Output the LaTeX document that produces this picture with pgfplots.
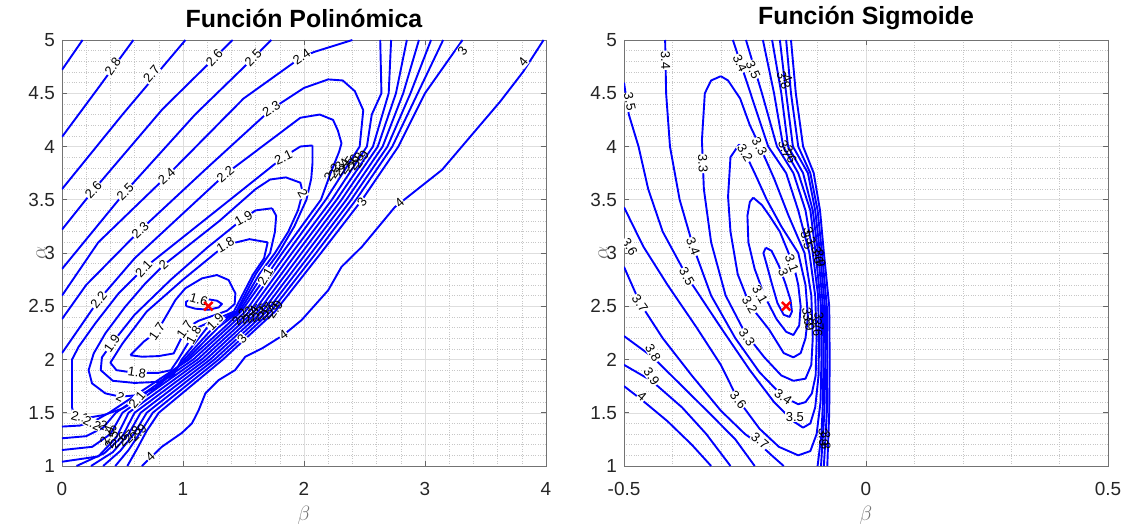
\documentclass[border=0pt]{standalone}
\usepackage{pgfplots}
\pgfplotsset{compat=1.18}
\usepackage{fontspec}
\setmainfont{Liberation Sans}
\begin{document}
\begin{tikzpicture}
\tikzset{lb/.style={fill=white, inner sep=0.6bp, font=\fontsize{13}{13}\selectfont, text=black},
 lc/.style={inner sep=0bp, font=\fontsize{13}{13}\selectfont, text=black}}
\pgfplotsset{
 cstyle/.style={
  scale only axis, width=484bp, height=426bp,
  ymin=1, ymax=5, ytick={1,1.5,...,5},
  grid=both,
  major grid style={draw=black!13, line width=0.5bp},
  minor grid style={draw=black!22, dotted, line width=0.5bp},
  axis line style={draw=black!55, line width=0.8bp},
  tick style={draw=black!60, line width=0.6bp},
  major tick length=5bp, minor tick length=0bp,
  tick align=inside,
  ticklabel style={font=\fontsize{19}{19}\selectfont, text=black!85},
  yticklabel style={anchor=east, inner sep=0pt, xshift=-7bp},
  xticklabel style={anchor=north, inner sep=0pt, yshift=-16bp},
  /pgf/number format/assume math mode=true,
  ylabel={$\alpha$}, xlabel={$\beta$},
  label style={font=\fontsize{21}{21}\selectfont, text=black!55},
  xlabel style={at={(axis description cs:0.5,0)}, anchor=center, yshift=-49bp},
  ylabel style={at={(axis description cs:0,0.5)}, anchor=center, yshift=21bp},
  title style={font=\bfseries\fontsize{25}{25}\selectfont, at={(axis description cs:0.5,1)}, anchor=center, yshift=16bp},
  minor y tick num=4, minor x tick num=4,
  clip=true,
 },
 cl/.style={blue, line width=1.9bp, no marks, line join=round},
}
% ================= LEFT =================
\begin{axis}[cstyle, title={Función Polinómica}, xmin=0, xmax=4, xtick={0,1,2,3,4}]
\addplot[cl] coordinates {(0,4.72) (0.17,5)};
\addplot[cl] coordinates {(0,4.09) (0.3,4.55) (0.59,5)};
\addplot[cl] coordinates {(0,3.60) (0.5,4.3) (1.02,5)};
\addplot[cl] coordinates {(0,3.22) (0.26,3.59) (0.83,4.35) (1.41,5)};
\addplot[cl] coordinates {(0,2.85) (0.523,3.575) (1.1,4.3) (1.58,4.83) (1.73,5)};
\addplot[cl] coordinates {(0,2.6) (0.3,3.1) (0.865,3.72) (1.5,4.45) (1.98,4.84) (2.09,4.89) (2.40,5.0)};
% 2.2
\addplot[cl] coordinates {(0,1.37) (0.15,1.38) (0.28,1.43) (0.39,1.5) (1.05,2.0) (1.34,2.3) (1.48,2.45) (1.70,2.8) (1.82,3.0) (2.14,3.5) (2.22,3.75) (2.29,3.95) (2.31,4.03) (2.28,4.15) (2.24,4.25) (2.13,4.30) (1.97,4.27) (1.35,3.74) (0.6,2.95) (0.303,2.558) (0,2.06)};
% 2.3
\addplot[cl] coordinates {(0,1.26) (0.2,1.28) (0.34,1.36) (0.445,1.5) (1.085,2.0) (1.515,2.45) (1.86,3.0) (2.18,3.5) (2.46,4.0) (2.49,4.34) (2.42,4.52) (2.32,4.62) (2.2,4.63) (2.0,4.55) (1.73,4.35) (1.2,3.8) (0.647,3.215) (0.2,2.7) (0,2.38)};
% 2.4 .. 3.0 right pieces
\addplot[cl] coordinates {(0,1.15) (0.25,1.18) (0.4,1.3) (0.50,1.5) (1.12,2.0) (1.55,2.45) (1.90,3.0) (2.23,3.5) (2.52,4.0) (2.56,4.3) (2.64,4.5) (2.63,5.0)};
\addplot[cl] coordinates {(0,1.04) (0.3,1.09) (0.45,1.27) (0.55,1.5) (1.155,2.0) (1.585,2.45) (1.94,3.0) (2.27,3.5) (2.57,4.0) (2.70,4.5) (2.72,5.0)};
\addplot[cl] coordinates {(0.12,1.0) (0.35,1.12) (0.5,1.28) (0.60,1.5) (1.19,2.0) (1.62,2.45) (1.98,3.0) (2.31,3.5) (2.61,4.0) (2.76,4.5) (2.85,5.0)};
\addplot[cl] coordinates {(0.24,1.0) (0.42,1.13) (0.55,1.3) (0.65,1.5) (1.225,2.0) (1.655,2.45) (2.02,3.0) (2.35,3.5) (2.65,4.0) (2.82,4.5) (2.95,5.0)};
\addplot[cl] coordinates {(0.34,1.0) (0.48,1.14) (0.6,1.31) (0.70,1.5) (1.26,2.0) (1.69,2.45) (2.06,3.0) (2.39,3.5) (2.69,4.0) (2.88,4.5) (3.05,5.0)};
\addplot[cl] coordinates {(0.44,1.0) (0.55,1.15) (0.65,1.32) (0.75,1.5) (1.295,2.0) (1.725,2.45) (2.10,3.0) (2.43,3.5) (2.73,4.0) (2.94,4.5) (3.15,5.0)};
\addplot[cl] coordinates {(0.54,1.0) (0.62,1.16) (0.7,1.33) (0.80,1.5) (1.33,2.0) (1.76,2.45) (2.14,3.0) (2.48,3.5) (2.78,4.0) (3.0,4.5) (3.31,5.0)};
% 2.1 loop
\addplot[cl] coordinates {(2.07,4.01) (2.07,3.84) (2.06,3.7) (2.02,3.5) (1.92,3.25) (1.79,3.0) (1.66,2.8) (1.465,2.45) (1.29,2.3) (1.03,2.0) (0.8,1.78) (0.62,1.62) (0.5,1.54) (0.35,1.48) (0.2,1.45) (0.1,1.47) (0.083,1.55) (0.083,2.0) (0.138,2.12) (0.275,2.339) (0.468,2.621) (0.675,2.855) (1.3,3.42) (1.83,3.90) (1.97,4.0) (2.07,4.01)};
% 2.0 loop
\addplot[cl] coordinates {(1.85,3.71) (1.97,3.66) (1.99,3.57) (1.95,3.4) (1.87,3.2) (1.76,3.0) (1.63,2.8) (1.45,2.45) (1.25,2.3) (1.01,2.0) (0.92,1.88) (0.771,1.729) (0.634,1.666) (0.482,1.651) (0.358,1.682) (0.248,1.776) (0.22,1.9) (0.262,2.057) (0.358,2.245) (0.523,2.496) (0.689,2.715) (0.84,2.887) (1.3,3.3) (1.6,3.6) (1.72,3.69) (1.85,3.71)};
% 1.9 loop
\addplot[cl] coordinates {(1.736,3.42) (1.77,3.35) (1.76,3.2) (1.72,3.0) (1.6,2.8) (1.44,2.45) (1.2,2.3) (0.99,2.0) (0.92,1.85) (0.8,1.79) (0.6,1.78) (0.42,1.8) (0.32,1.9) (0.33,2.02) (0.413,2.152) (0.6,2.42) (0.9,2.75) (1.2,3.05) (1.50,3.325) (1.6,3.4) (1.736,3.42)};
% 1.8 loop
\addplot[cl] coordinates {(1.70,3.1) (1.67,2.95) (1.58,2.8) (1.42,2.45) (1.12,2.3) (0.96,2.0) (0.9,1.9) (0.8,1.875) (0.6,1.875) (0.45,1.9) (0.4,1.97) (0.5,2.15) (0.7,2.45) (1.0,2.75) (1.35,3.075) (1.55,3.13) (1.70,3.1)};
% 1.7 loop
\addplot[cl] coordinates {(0.565,2.04) (0.675,2.167) (0.785,2.261) (0.882,2.449) (0.937,2.558) (1.019,2.668) (1.157,2.762) (1.281,2.793) (1.377,2.746) (1.433,2.621) (1.427,2.521) (1.364,2.458) (1.24,2.408) (1.129,2.364) (1.047,2.308) (0.978,2.183) (0.923,2.057) (0.799,2.032) (0.661,2.026) (0.565,2.04)};
% 1.6
\addplot[cl] coordinates {(1.025,2.502) (1.102,2.477) (1.212,2.467) (1.295,2.489) (1.322,2.521) (1.281,2.552) (1.212,2.565) (1.102,2.574) (1.025,2.543) (1.025,2.502)};
% 4
\addplot[cl] coordinates {(0.66,1.0) (0.826,1.181) (0.99,1.31) (1.074,1.40) (1.13,1.525) (1.185,1.682) (1.295,1.807) (1.43,1.90) (1.515,2.026) (1.653,2.104) (1.83,2.23) (1.98,2.37) (2.20,2.65) (2.31,2.87) (2.48,3.06) (2.75,3.43) (3.14,3.78) (3.62,4.42) (3.81,4.70) (3.98,5.0)};
% labels
\node[lb,rotate=54] at (axis cs:0.42,4.75) {2.8};
\node[lb,rotate=50] at (axis cs:0.74,4.68) {2.7};
\node[lb,rotate=48] at (axis cs:0.26,3.59) {2.6};
\node[lb,rotate=48] at (axis cs:1.26,4.83) {2.6};
\node[lb,rotate=46] at (axis cs:0.523,3.575) {2.5};
\node[lb,rotate=46] at (axis cs:1.58,4.83) {2.5};
\node[lb,rotate=41] at (axis cs:0.865,3.72) {2.4};
\node[lb,rotate=35] at (axis cs:1.98,4.84) {2.4};
\node[lb,rotate=44] at (axis cs:0.647,3.215) {2.3};
\node[lb,rotate=33] at (axis cs:1.73,4.35) {2.3};
\node[lb,rotate=52] at (axis cs:0.303,2.558) {2.2};
\node[lb,rotate=40] at (axis cs:1.35,3.74) {2.2};
\node[lb,rotate=47] at (axis cs:0.675,2.855) {2.1};
\node[lb,rotate=25] at (axis cs:1.83,3.90) {2.1};
\node[lb,rotate=60] at (axis cs:1.68,2.78) {2.1};
\node[lb,rotate=42] at (axis cs:0.84,2.887) {2};
\node[lb,rotate=-60] at (axis cs:1.99,3.56) {2};
\node[lb,rotate=-25] at (axis cs:0.482,1.651) {2};
\node[lb,rotate=50] at (axis cs:0.62,1.62) {2.1};
\node[lb,rotate=-15] at (axis cs:0.15,1.46) {2.1};
\node[lb,rotate=55] at (axis cs:0.413,2.152) {1.9};
\node[lb,rotate=30] at (axis cs:1.50,3.325) {1.9};
\node[lb,rotate=45] at (axis cs:1.267,2.355) {1.9};
\node[lb,rotate=-8] at (axis cs:0.62,1.875) {1.8};
\node[lb,rotate=30] at (axis cs:1.35,3.075) {1.8};
\node[lb,rotate=60] at (axis cs:1.088,2.23) {1.8};
\node[lb,rotate=55] at (axis cs:0.785,2.261) {1.7};
\node[lb,rotate=55] at (axis cs:1.014,2.283) {1.7};
\node[lb,rotate=-15] at (axis cs:1.13,2.565) {1.6};
% clusters (overlapping labels, as drawn by clabel)
\node[lb,rotate=-25] at (axis cs:0.25,1.40) {2.2};
\node[lc,rotate=-30] at (axis cs:0.38,1.36) {2.3};
\node[lc,rotate=70] at (axis cs:0.37,1.29) {2.4};
\node[lc,rotate=70] at (axis cs:0.41,1.25) {2.5};
\node[lc,rotate=45] at (axis cs:0.47,1.24) {2.6};
\node[lc,rotate=45] at (axis cs:0.53,1.26) {2.7};
\node[lc,rotate=45] at (axis cs:0.58,1.29) {2.8};
\node[lc,rotate=45] at (axis cs:0.63,1.31) {2.9};
\node[lc,rotate=55] at (axis cs:1.47,2.40) {2.2};
\node[lc,rotate=55] at (axis cs:1.52,2.41) {2.3};
\node[lc,rotate=55] at (axis cs:1.56,2.42) {2.4};
\node[lc,rotate=55] at (axis cs:1.60,2.43) {2.5};
\node[lc,rotate=55] at (axis cs:1.64,2.44) {2.6};
\node[lc,rotate=55] at (axis cs:1.68,2.45) {2.7};
\node[lc,rotate=55] at (axis cs:1.72,2.46) {2.8};
\node[lc,rotate=55] at (axis cs:1.76,2.47) {2.9};
\node[lc,rotate=55] at (axis cs:2.23,3.76) {2.2};
\node[lc,rotate=55] at (axis cs:2.27,3.78) {2.3};
\node[lc,rotate=55] at (axis cs:2.31,3.80) {2.4};
\node[lc,rotate=55] at (axis cs:2.35,3.82) {2.5};
\node[lc,rotate=55] at (axis cs:2.39,3.84) {2.6};
\node[lc,rotate=55] at (axis cs:2.43,3.86) {2.8};
\node[lc,rotate=55] at (axis cs:2.47,3.88) {2.9};
\node[lb,rotate=50] at (axis cs:1.488,2.198) {3};
\node[lb,rotate=55] at (axis cs:2.48,3.48) {3};
\node[lb,rotate=55] at (axis cs:3.31,4.9) {3};
\node[lb,rotate=42] at (axis cs:0.73,1.087) {4};
\node[lb,rotate=35] at (axis cs:1.83,2.23) {4};
\node[lb,rotate=42] at (axis cs:2.79,3.47) {4};
\node[lb,rotate=50] at (axis cs:3.81,4.79) {4};
\addplot[only marks, mark=x, red, mark size=6bp, line width=2.4bp] coordinates {(1.21,2.5)};
\end{axis}
% ================= RIGHT =================
\begin{axis}[cstyle, at={(562bp,0)}, title={Función Sigmoide}, xmin=-0.5, xmax=0.5, xtick={-0.5,0,0.5}, xticklabels={-0.5,0,0.5}]
\addplot[cl] coordinates {(-0.207,3.05) (-0.195,3.02) (-0.18,2.88) (-0.167,2.72) (-0.156,2.56) (-0.153,2.45) (-0.158,2.40) (-0.17,2.42) (-0.183,2.53) (-0.195,2.72) (-0.207,2.92) (-0.212,3.0) (-0.207,3.05)};
\addplot[cl] coordinates {(-0.233,3.52) (-0.215,3.45) (-0.198,3.34) (-0.178,3.2) (-0.16,3.0) (-0.15,2.9) (-0.14,2.7) (-0.135,2.5) (-0.138,2.32) (-0.15,2.23) (-0.165,2.26) (-0.185,2.38) (-0.21,2.6) (-0.23,2.85) (-0.243,3.1) (-0.245,3.35) (-0.24,3.48) (-0.233,3.52)};
\addplot[cl] coordinates {(-0.262,4.02) (-0.25,3.94) (-0.23,3.75) (-0.205,3.5) (-0.175,3.25) (-0.14,3.0) (-0.125,2.7) (-0.12,2.4) (-0.125,2.2) (-0.135,2.06) (-0.15,2.02) (-0.17,2.06) (-0.2,2.28) (-0.24,2.51) (-0.265,2.8) (-0.28,3.2) (-0.285,3.53) (-0.28,3.9) (-0.262,4.02)};
\addplot[cl] coordinates {(-0.30,4.66) (-0.285,4.62) (-0.26,4.45) (-0.24,4.2) (-0.219,4.0) (-0.19,3.7) (-0.16,3.35) (-0.127,3.0) (-0.113,2.6) (-0.11,2.2) (-0.113,1.95) (-0.125,1.82) (-0.15,1.80) (-0.175,1.85) (-0.21,2.02) (-0.25,2.25) (-0.29,2.6) (-0.32,3.1) (-0.335,3.6) (-0.339,4.06) (-0.333,4.5) (-0.32,4.62) (-0.30,4.66)};
\addplot[cl] coordinates {(-0.415,5) (-0.413,4.5) (-0.405,4.0) (-0.385,3.5) (-0.357,3.06) (-0.32,2.6) (-0.27,2.2) (-0.22,1.88) (-0.171,1.65) (-0.14,1.58) (-0.125,1.6) (-0.112,1.68) (-0.104,1.85) (-0.102,2.2) (-0.105,2.6) (-0.117,3.0) (-0.14,3.4) (-0.165,3.75) (-0.202,4.0) (-0.235,4.45) (-0.275,5.0)};
\addplot[cl] coordinates {(-0.5,4.6) (-0.49,4.3) (-0.47,4.0) (-0.45,3.6) (-0.42,3.2) (-0.37,2.78) (-0.3,2.3) (-0.24,1.9) (-0.19,1.6) (-0.15,1.42) (-0.13,1.36) (-0.115,1.4) (-0.105,1.55) (-0.098,1.85) (-0.097,2.2) (-0.099,2.6) (-0.11,3.0) (-0.125,3.4) (-0.15,3.75) (-0.184,4.0) (-0.215,4.5) (-0.248,5.0)};
\addplot[cl] coordinates {(-0.5,3.43) (-0.46,3.06) (-0.41,2.7) (-0.35,2.3) (-0.3,1.95) (-0.264,1.62) (-0.22,1.35) (-0.18,1.18) (-0.14,1.1) (-0.115,1.14) (-0.102,1.3) (-0.094,1.6) (-0.092,2.0) (-0.093,2.5) (-0.104,3.0) (-0.115,3.4) (-0.14,3.75) (-0.171,4.0) (-0.19,4.5) (-0.213,5.0)};
\addplot[cl] coordinates {(-0.5,2.87) (-0.467,2.53) (-0.42,2.2) (-0.36,1.85) (-0.3,1.52) (-0.25,1.3) (-0.219,1.2) (-0.19,1.08) (-0.17,1.0)};
\addplot[cl] coordinates {(-0.1,1.0) (-0.092,1.3) (-0.089,1.6) (-0.088,2.0) (-0.089,2.5) (-0.099,3.0) (-0.11,3.4) (-0.13,3.75) (-0.161,4.0) (-0.175,4.5) (-0.194,5.0)};
\addplot[cl] coordinates {(-0.5,2.22) (-0.44,2.02) (-0.38,1.75) (-0.32,1.48) (-0.27,1.25) (-0.23,1.0)};
\addplot[cl] coordinates {(-0.093,1.0) (-0.086,1.5) (-0.084,2.0) (-0.085,2.5) (-0.095,3.0) (-0.105,3.4) (-0.12,3.75) (-0.151,4.0) (-0.165,4.5) (-0.178,5.0)};
\addplot[cl] coordinates {(-0.5,1.95) (-0.443,1.8) (-0.38,1.55) (-0.33,1.3) (-0.28,1.0)};
\addplot[cl] coordinates {(-0.087,1.0) (-0.081,1.5) (-0.08,2.0) (-0.081,2.5) (-0.091,3.0) (-0.1,3.4) (-0.115,3.75) (-0.14,4.0) (-0.155,4.5) (-0.165,5.0)};
\addplot[cl] coordinates {(-0.5,1.75) (-0.463,1.62) (-0.41,1.42) (-0.36,1.2) (-0.32,1.0)};
\addplot[cl] coordinates {(-0.08,1.0) (-0.076,1.5) (-0.075,2.0) (-0.076,2.5) (-0.087,3.0) (-0.095,3.4) (-0.108,3.75) (-0.13,4.0) (-0.145,4.5) (-0.155,5.0)};
\node[lb,rotate=-88] at (axis cs:-0.414,4.81) {3.4};
\node[lb,rotate=-78] at (axis cs:-0.488,4.42) {3.5};
\node[lb,rotate=-65] at (axis cs:-0.26,4.78) {3.4};
\node[lb,rotate=-65] at (axis cs:-0.233,4.72) {3.5};
\node[lc,rotate=-70] at (axis cs:-0.17,4.62) {3.8};
\node[lc,rotate=-70] at (axis cs:-0.162,4.64) {4};
\node[lb,rotate=-88] at (axis cs:-0.337,3.84) {3.3};
\node[lb,rotate=-60] at (axis cs:-0.22,4.0) {3.3};
\node[lb,rotate=-60] at (axis cs:-0.25,3.94) {3.2};
\node[lc,rotate=-70] at (axis cs:-0.167,3.97) {3.7};
\node[lc,rotate=-70] at (axis cs:-0.157,3.93) {3.6};
\node[lb,rotate=-70] at (axis cs:-0.357,3.06) {3.4};
\node[lb,rotate=-60] at (axis cs:-0.488,3.06) {3.6};
\node[lb,rotate=-60] at (axis cs:-0.37,2.78) {3.5};
\node[lb,rotate=-55] at (axis cs:-0.467,2.53) {3.7};
\node[lb,rotate=-60] at (axis cs:-0.219,2.61) {3.1};
\node[lb,rotate=-60] at (axis cs:-0.24,2.51) {3.2};
\node[lb,rotate=-55] at (axis cs:-0.246,2.21) {3.3};
\node[lb,rotate=-70] at (axis cs:-0.171,2.82) {3};
\node[lb,rotate=-70] at (axis cs:-0.153,2.9) {3.1};
\node[lb,rotate=-60] at (axis cs:-0.44,2.06) {3.8};
\node[lb,rotate=-55] at (axis cs:-0.443,1.84) {3.9};
\node[lb,rotate=-40] at (axis cs:-0.463,1.65) {4};
\node[lb,rotate=-50] at (axis cs:-0.264,1.62) {3.6};
\node[lb,rotate=-40] at (axis cs:-0.219,1.24) {3.7};
\node[lb,rotate=-35] at (axis cs:-0.171,1.65) {3.4};
\node[lb,rotate=0] at (axis cs:-0.147,1.46) {3.5};
\node[lc,rotate=-75] at (axis cs:-0.122,3.12) {3.5};
\node[lc,rotate=-75] at (axis cs:-0.116,3.16) {3.3};
\node[lc,rotate=-80] at (axis cs:-0.1,2.98) {3.6};
\node[lc,rotate=-80] at (axis cs:-0.095,2.95) {3.9};
\node[lc,rotate=-80] at (axis cs:-0.12,2.4) {3.8};
\node[lc,rotate=-80] at (axis cs:-0.118,2.35) {3.9};
\node[lc,rotate=-88] at (axis cs:-0.1,2.3) {3.6};
\node[lc,rotate=-88] at (axis cs:-0.097,2.36) {3.7};
\node[lc,rotate=-88] at (axis cs:-0.088,1.27) {3.9};
\node[lc,rotate=-88] at (axis cs:-0.083,1.24) {3.8};
\addplot[only marks, mark=x, red, mark size=6bp, line width=2.4bp] coordinates {(-0.165,2.5)};
\end{axis}
\pgfresetboundingbox
\useasboundingbox (-62bp,-63bp) rectangle (1068bp,466bp);
\end{tikzpicture}
\end{document}
